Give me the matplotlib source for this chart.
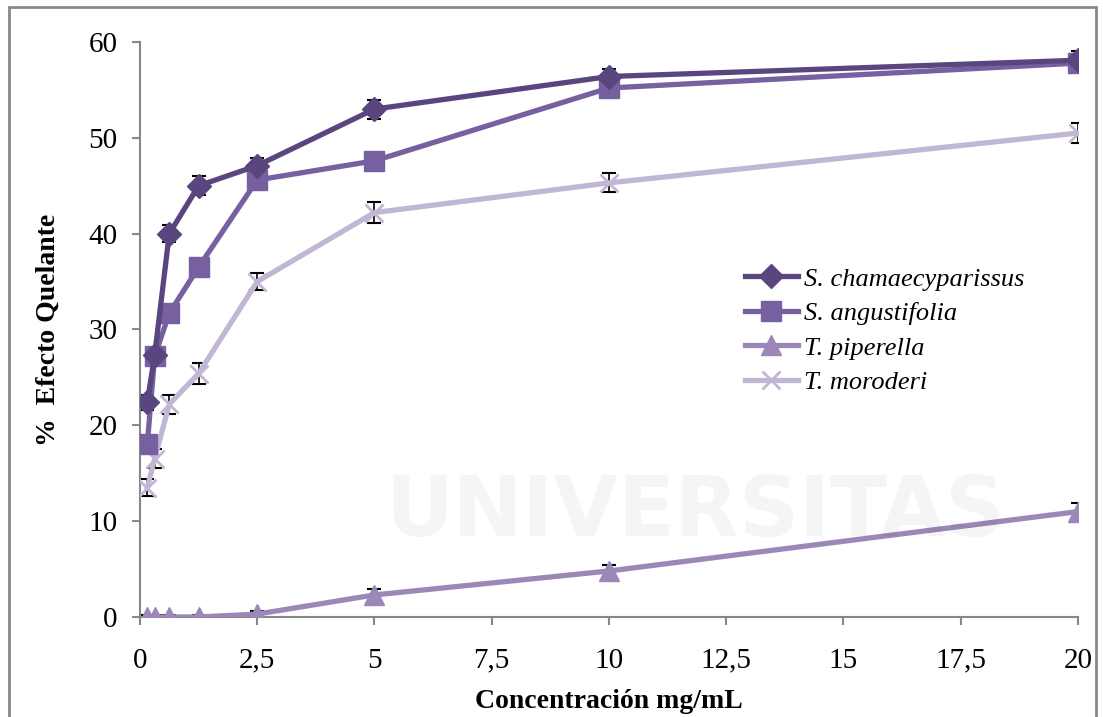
import numpy as np
import matplotlib
matplotlib.use("Agg")
import matplotlib.pyplot as plt
from matplotlib.patches import Rectangle

conc = [0.156, 0.3125, 0.625, 1.25, 2.5, 5, 10, 20]

s_chamae = [22.4, 27.3, 40.0, 45.0, 47.1, 53.0, 56.4, 58.1]
s_chamae_err = [0.8, 0.8, 0.9, 1.0, 0.8, 1.0, 0.8, 1.0]
s_angust = [18.0, 27.2, 31.7, 36.5, 45.6, 47.6, 55.2, 57.8]
s_angust_err = [0.8, 0.8, 0.8, 0.8, 0.9, 0.8, 0.9, 0.9]
t_piper = [0.0, 0.0, 0.0, 0.0, 0.3, 2.3, 4.8, 11.0]
t_piper_err = [0.2, 0.2, 0.2, 0.2, 0.3, 0.6, 0.6, 0.9]
t_moro = [13.5, 16.5, 22.2, 25.4, 35.0, 42.2, 45.3, 50.5]
t_moro_err = [0.9, 1.0, 1.0, 1.1, 0.9, 1.1, 1.0, 1.0]

xticks = [0, 2.5, 5, 7.5, 10, 12.5, 15, 17.5, 20]
xtick_labels = ["0", "2,5", "5", "7,5", "10", "12,5", "15", "17,5", "20"]
yticks = [0, 10, 20, 30, 40, 50, 60]

plt.rcParams['font.family'] = ['Liberation Serif', 'DejaVu Serif']

fig = plt.figure(figsize=(11.03, 7.17), dpi=100)
ax = fig.add_axes([0.1269, 0.1395, 0.8504, 0.8019])

# faint watermark
fig.text(0.63, 0.285, "UNIVERSITAS", fontsize=60, fontweight='bold', color='#000000',
         alpha=0.04, ha='center', va='center', family='DejaVu Sans', zorder=0)

series = [
    ("S. chamaecyparissus", s_chamae, s_chamae_err, '#5A467E', 'D', 12.5),
    ("S. angustifolia", s_angust, s_angust_err, '#7760A0', 's', 14),
    ("T. piperella", t_piper, t_piper_err, '#9B88B8', '^', 14),
    ("T. moroderi", t_moro, t_moro_err, '#C1B6D4', 'x', 13),
]

handles = []
for name, vals, err, col, mk, ms in reversed(series):
    ax.errorbar(conc, vals, yerr=err, fmt='none', ecolor='black', elinewidth=1.2,
                capsize=5, capthick=1.5, zorder=2)
    mew = 2 if mk == 'x' else 1
    h, = ax.plot(conc, vals, color=col, lw=3.8, marker=mk, markersize=ms,
                 markerfacecolor=col, markeredgecolor=col, markeredgewidth=mew,
                 label=name, zorder=3)
    handles.append(h)
handles = handles[::-1]

ax.set_xlim(0, 20)
ax.set_ylim(0, 60)
ax.set_xticks(xticks)
ax.set_xticklabels(xtick_labels)
ax.set_yticks(yticks)
ax.tick_params(axis='both', labelsize=21, color='#888888', length=6, width=1.5,
               direction='out')
ax.tick_params(axis='y', pad=10)
ax.tick_params(axis='x', pad=16)
for s in ['top', 'right']:
    ax.spines[s].set_visible(False)
for s in ['left', 'bottom']:
    ax.spines[s].set_color('#888888')
    ax.spines[s].set_linewidth(1.5)
ax.patch.set_alpha(0)

ax.set_xlabel("Concentración mg/mL", fontsize=20, fontweight='bold', labelpad=11)
ax.set_ylabel("%  Efecto Quelante", fontsize=20, fontweight='bold', labelpad=20)

leg = ax.legend(handles=handles, loc='center left', bbox_to_anchor=(0.645, 0.498),
                frameon=False, prop={'style': 'italic', 'size': 19},
                handlelength=2.0, handletextpad=0.25, labelspacing=0.42,
                borderpad=0, borderaxespad=0)

fig.patches.append(Rectangle((9 / 1103, -0.05), 1087 / 1103, 1.05 - 7 / 717,
                             transform=fig.transFigure, fill=False,
                             edgecolor='#888888', lw=2, clip_on=False))

fig.savefig("out.png", dpi=100)
